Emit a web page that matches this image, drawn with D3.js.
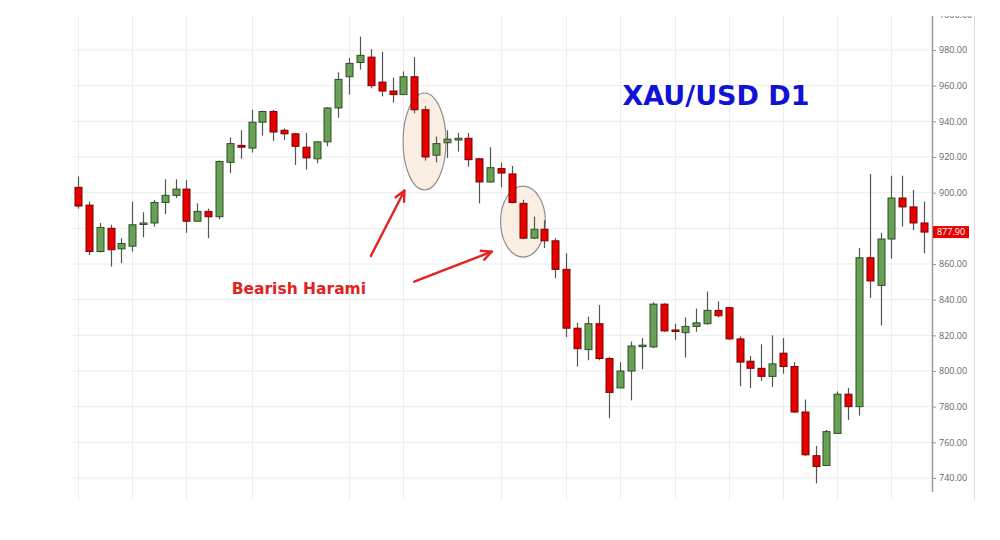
<!DOCTYPE html>
<html><head><meta charset="utf-8">
<script src="https://cdn.jsdelivr.net/npm/d3@7/dist/d3.min.js"></script>
<style>html,body{margin:0;padding:0;background:#fff;}svg{display:block;}</style>
</head><body>
<svg id="chart" width="1000" height="540"></svg>
<script>
const opens  = [903,893,867,880,868.5,870,882.5,883,894.5,898.5,902,884,889.5,886.5,917,926.5,925,939.5,945.5,935,933,925.5,919,928.5,947.5,965,973,976,962,957,955,965,946.5,921,928,929.5,930.5,919,906,913.5,910.5,894,874.5,879.5,873,857,824,812,826.5,807,790.5,800,814,813.5,837.5,823,821.5,825,826.5,834,835.5,818,805.5,801.5,797,810,802.5,777,752.5,747,765,787,780,863.5,848,874,897,892,883];
const highs  = [909,895,883,882,874.5,895,889,896,907.5,907.5,907,894,891,918,931,935,946.5,946,946.5,936,933.5,933.5,929,948,967.5,975.5,987.5,980.5,979,964.5,968,976,948.5,931.5,935,933.5,933.5,919.5,925.5,917,915,896,886.5,884.5,874.5,866,827,830.5,837,808,805,816.5,818.5,838.5,838,826.5,830,835,844.5,839,836,819.5,808.5,815,820,818.5,805,784,758,767,788.5,790.5,869,910.5,877.5,909.5,909.5,901.5,895];
const lows   = [891,865,866.5,858.5,860.5,867,875,881,888,897,877.5,884,874.5,885,911,919,922.5,932,929,929.5,915.5,913,916.5,926,942,955,969,958.5,954,950.5,955,944.5,918,917,919.5,923,914.5,894,905.5,903,894,874,874,869,852,819,802.5,806,806,773.5,790.5,783.5,801,813,822,817.5,807.5,822,826,830,817.5,791.5,790.5,794.5,791,798.5,776.5,752.5,737,747,765,772.5,775,841,825.5,863,881,879,866];
const closes = [892.5,867,880.5,868,871.5,882,883,894.5,898.5,902,884,889.5,886.5,917.5,927.5,925.5,939.5,945.5,934,933,926,919.5,928.5,947.5,963.5,972.5,977,960,957,955,965,946.5,920,927.5,930,930.5,918.5,906,914,911,894.5,874.5,879.5,873,857,824,812.5,826.5,807,788,800,814,814.5,837.5,822.5,822.5,825,827,834,831,818,805,801.5,797,804,802.5,777,753,746.5,766,787,780,863.5,850.5,874,897,892,883,877.9];
const yTicks = [740,760,780,800,820,840,860,880,900,920,940,960,980,1000];
const gridCandles = [0,5,10,16,25,30,39,45,50,55,60,65,70,75];
const lastPrice = 877.90;
const titleText = "XAU/USD D1";
const noteText = "Bearish Harami";
const ellipses = [{i:31.95,p:928.7,ri:1.98,rp:27.2},{i:41.03,p:883.8,ri:2.07,rp:19.9}];
const arrows = [{i0:27.0,p0:864.5,i1:30.09,p1:901.1},{i0:31.0,p0:850.1,i1:38.14,p1:866.9}];
const titlePos = {i:50.2,p:949.2};
const notePos = {i:14.17,p:843.0};

const svg = d3.select("#chart");
const n = opens.length;
const x = d3.scaleLinear().domain([0, n-1]).range([78, 924]);
const y = d3.scaleLinear().domain([740, 980]).range([478, 50]);
const plotL = 72, plotR = 932, plotT = 16, plotB = 500;

svg.append("defs").append("clipPath").attr("id","clip")
  .append("rect").attr("x",0).attr("y",plotT).attr("width",1000).attr("height",plotB-plotT);

const g = svg.append("g").attr("clip-path","url(#clip)");

// horizontal grid
g.append("g").selectAll("line").data(yTicks).join("line")
  .attr("x1",plotL).attr("x2",plotR).attr("y1",d=>y(d)).attr("y2",d=>y(d))
  .attr("stroke","#ececec").attr("stroke-width",1);
// vertical grid
g.append("g").selectAll("line").data(gridCandles).join("line")
  .attr("x1",d=>Math.round(x(d))+0.5).attr("x2",d=>Math.round(x(d))+0.5)
  .attr("y1",plotT).attr("y2",plotB)
  .attr("stroke","#e9eeee").attr("stroke-width",1);
// right border
svg.append("line").attr("x1",974.5).attr("x2",974.5).attr("y1",plotT).attr("y2",plotB)
  .attr("stroke","#dddddd").attr("stroke-width",1);

// ellipses
const kx = x(1)-x(0), kp = y(0)-y(1);
g.append("g").selectAll("ellipse").data(ellipses).join("ellipse")
  .attr("cx",d=>x(d.i)).attr("cy",d=>y(d.p))
  .attr("rx",d=>d.ri*kx).attr("ry",d=>d.rp*kp)
  .attr("fill","#fbeee2").attr("stroke","#8f8f8f").attr("stroke-width",1.2);

// candles
const data = d3.range(n).map(i=>({i,o:opens[i],h:highs[i],l:lows[i],c:closes[i]}));
const cg = g.append("g");
const bw = 7;
cg.selectAll("line.wick").data(data).join("line").attr("class","wick")
  .attr("x1",d=>Math.round(x(d.i))+0.5).attr("x2",d=>Math.round(x(d.i))+0.5)
  .attr("y1",d=>y(d.h)).attr("y2",d=>y(d.l))
  .attr("stroke","#555").attr("stroke-width",1.2);
cg.selectAll("rect.body").data(data).join("rect").attr("class","body")
  .attr("x",d=>Math.round(x(d.i))+0.5-bw/2)
  .attr("y",d=>y(Math.max(d.o,d.c)))
  .attr("width",bw)
  .attr("height",d=>Math.max(1.5,Math.abs(y(d.o)-y(d.c))))
  .attr("fill",d=>d.c>=d.o?"#68a055":"#e60000")
  .attr("stroke",d=>d.c>=d.o?"#2f4f24":"#7a0000")
  .attr("stroke-width",1);

// axis
const axisG = svg.append("g").attr("transform",`translate(${plotR},0)`);
axisG.append("line").attr("x1",0.5).attr("x2",0.5).attr("y1",plotT).attr("y2",plotB-8)
  .attr("stroke","#999").attr("stroke-width",1.5);
const ax = d3.axisRight(y).tickValues(yTicks).tickSize(4).tickPadding(3)
  .tickFormat(d => Math.abs(d - lastPrice) < 6 ? "" : d3.format(".2f")(d));
const axG = axisG.append("g").attr("clip-path","url(#clip)").call(ax);
axG.select(".domain").remove();
axG.selectAll(".tick line").attr("stroke","#999");
axG.selectAll(".tick text").attr("fill","#666").style("font-family","'Open Sans', sans-serif").style("font-size","9px");

// last price label
const lp = svg.append("g").attr("transform",`translate(${plotR+1},${y(lastPrice)})`);
lp.append("rect").attr("x",0).attr("y",-6).attr("width",36).attr("height",12).attr("fill","#e60000");
lp.append("text").attr("x",18).attr("y",0).attr("dy","0.35em").attr("text-anchor","middle")
  .attr("fill","#fff").style("font-family","'Open Sans', sans-serif").style("font-size","9px")
  .text(d3.format(".2f")(lastPrice));

// arrows
const red = "#e32222";
arrows.forEach(a=>{
  const x0=x(a.i0), y0=y(a.p0), x1=x(a.i1), y1=y(a.p1);
  const ang = Math.atan2(y1-y0, x1-x0);
  const L=11, sp=0.45;
  svg.append("line").attr("x1",x0).attr("y1",y0).attr("x2",x1).attr("y2",y1)
    .attr("stroke",red).attr("stroke-width",2.4).attr("stroke-linecap","round");
  [ang+Math.PI-sp, ang+Math.PI+sp].forEach(t=>{
    svg.append("line").attr("x1",x1).attr("y1",y1)
      .attr("x2",x1+L*Math.cos(t)).attr("y2",y1+L*Math.sin(t))
      .attr("stroke",red).attr("stroke-width",2.4).attr("stroke-linecap","round");
  });
});

// texts
svg.append("text").attr("x",x(notePos.i)).attr("y",y(notePos.p))
  .attr("fill",red).style("font-family","'DejaVu Sans', Verdana, sans-serif")
  .style("font-weight","bold").style("font-size","15.5px").text(noteText);
svg.append("text").attr("x",x(titlePos.i)).attr("y",y(titlePos.p))
  .attr("fill","#1212d6").style("font-family","'DejaVu Sans', Verdana, sans-serif")
  .style("font-weight","bold").style("font-size","27px").text(titleText);
</script>
</body></html>
